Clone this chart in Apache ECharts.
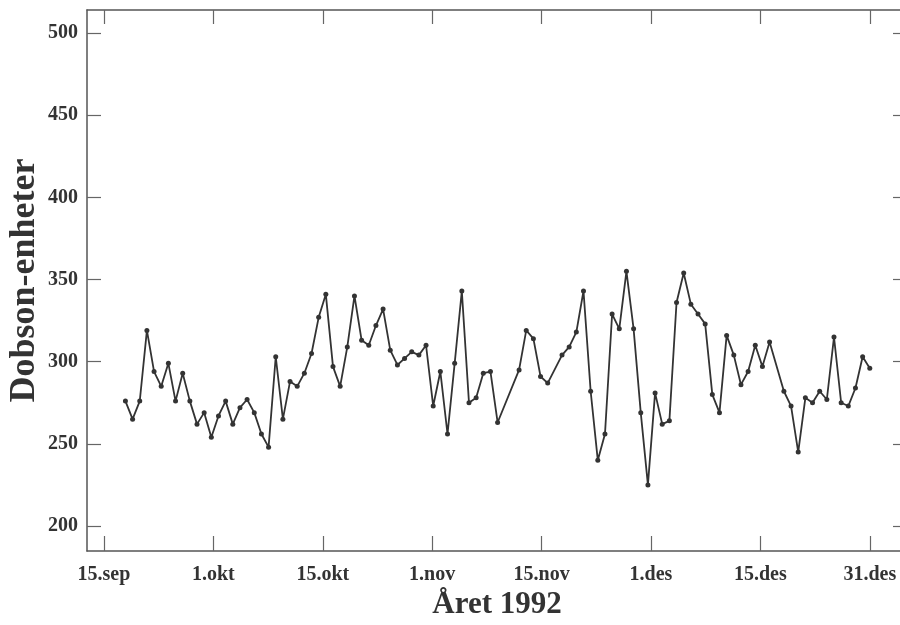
<!DOCTYPE html>
<html>
<head>
<meta charset="utf-8">
<script src="https://cdn.jsdelivr.net/npm/echarts@6/dist/echarts.min.js"></script>
<style>
html,body{margin:0;padding:0;background:#fff;}
#chart{width:900px;height:625px;}
</style>
</head>
<body>
<div id="chart"></div>
<script>
// Day offsets counted from 15 September 1992
const days = [3,4,5,6,7,8,9,10,11,12,13,14,15,16,17,18,19,20,21,22,23,24,25,26,27,
  28,29,30,31,32,33,34,35,36,37,38,39,40,41,42,43,44,45,46,47,48,49,50,51,52,53,54,
  55,58,59,60,61,62,64,65,66,67,68,69,70,71,72,73,74,75,76,77,78,79,
  80,81,82,83,84,85,86,87,88,89,90,91,92,93,95,96,97,98,99,100,101,102,103,104,105,106,107];
const dobson = [276,265,276,319,294,285,299,276,293,276,262,269,254,267,276,262,272,277,269,256,248,303,265,288,285,
  293,305,327,341,297,285,309,340,313,310,322,332,307,298,302,306,304,310,273,294,256,299,343,275,278,293,294,
  263,295,319,314,291,287,304,309,318,343,282,240,256,329,320,355,320,269,225,281,262,264,
  336,354,335,329,323,280,269,316,304,286,294,310,297,312,282,273,245,278,275,282,277,315,275,273,284,303,296];
const xTickLabels = ['15.sep','1.okt','15.okt','1.nov','15.nov','1.des','15.des','31.des'];
const spanDays = 107; // 15.sep -> 31.des
const yTicks = [200,250,300,350,400,450,500];

const step = spanDays / (xTickLabels.length - 1);
const xTickVals = xTickLabels.map((_, i) => i * step);
const serif = 'Liberation Serif';
const axisLineStyle = {color:'#555', width:1.5};
const tickStyle = {color:'#666', width:1.2};
const xMin = -2.37, xMax = 112.2, yMin = 184.8, yMax = 514;

const chart = echarts.init(document.getElementById('chart'), null, {renderer:'canvas'});
chart.setOption({
  animation:false,
  backgroundColor:'#fff',
  grid:{left:87, top:10, width:820, height:541, containLabel:false, outerBoundsMode:'none'},
  xAxis:[
    {type:'value', position:'bottom', min:xMin, max:xMax,
     axisLine:{show:true, onZero:false, lineStyle:axisLineStyle},
     axisTick:{show:true, inside:true, length:15, customValues:xTickVals, lineStyle:tickStyle},
     axisLabel:{show:true, customValues:xTickVals, margin:14,
       formatter:v => xTickLabels[Math.round(v / step)] || '',
       fontFamily:serif, fontWeight:'bold', fontSize:20, color:'#333'},
     splitLine:{show:false},
     name:'Året 1992', nameLocation:'middle', nameGap:36,
     nameTextStyle:{fontFamily:serif, fontWeight:'bold', fontSize:31, color:'#333'}},
    {type:'value', position:'top', min:xMin, max:xMax,
     axisLine:{show:true, onZero:false, lineStyle:axisLineStyle},
     axisTick:{show:true, inside:true, length:14, customValues:xTickVals, lineStyle:tickStyle},
     axisLabel:{show:false}, splitLine:{show:false}}
  ],
  yAxis:[
    {type:'value', position:'left', min:yMin, max:yMax,
     axisLine:{show:true, onZero:false, lineStyle:axisLineStyle},
     axisTick:{show:true, inside:true, length:14, customValues:yTicks, lineStyle:tickStyle},
     axisLabel:{show:true, customValues:yTicks, margin:9,
       fontFamily:serif, fontWeight:'bold', fontSize:20, color:'#333'},
     splitLine:{show:false},
     name:'Dobson-enheter', nameLocation:'middle', nameGap:44, nameRotate:90, nameMoveOverlap:false,
     nameTextStyle:{fontFamily:serif, fontWeight:'bold', fontSize:36, color:'#333'}},
    {type:'value', position:'right', min:yMin, max:yMax,
     axisLine:{show:true, onZero:false, lineStyle:axisLineStyle},
     axisTick:{show:true, inside:true, length:14, customValues:yTicks, lineStyle:tickStyle},
     axisLabel:{show:false}, splitLine:{show:false}}
  ],
  series:[{
    type:'line', xAxisIndex:0, yAxisIndex:0,
    data: days.map((d, i) => [d, dobson[i]]),
    symbol:'circle', symbolSize:5, showSymbol:true,
    lineStyle:{color:'#333', width:1.8},
    itemStyle:{color:'#333'},
    smooth:false
  }]
});
</script>
</body>
</html>
